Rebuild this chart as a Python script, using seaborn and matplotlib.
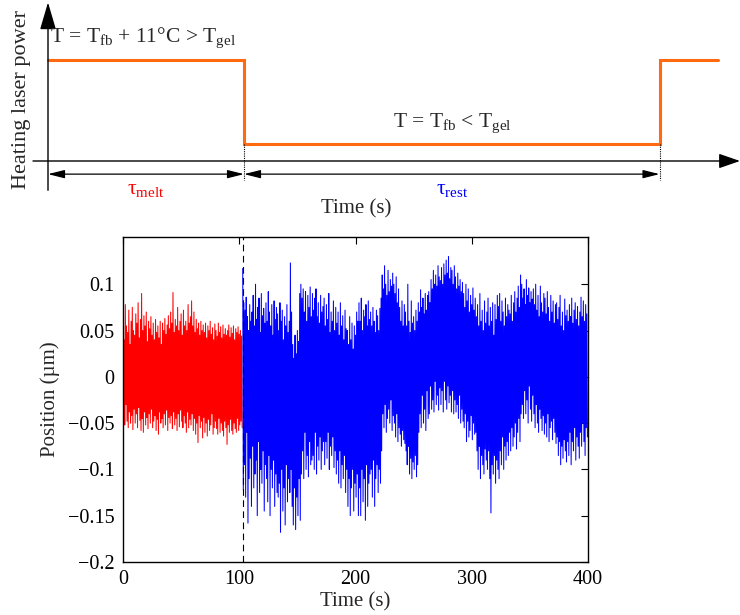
import numpy as np
import pandas as pd
import matplotlib
matplotlib.use("Agg")
import matplotlib.pyplot as plt
import seaborn as sns

# Schematic (top panel): heating laser power vs time, arbitrary units
phase_edges = [0, 100, 312, 342]      # melt, rest, melt again
phase_power = [1.0, 0.17, 1.0]

# Position trace (bottom panel), values in nm, 0.5 s apart
melt_nm = [
    65, -45, 40, -52, 78, -30, 55, -48, 48, -55, 72, -38, 35, -50, 60, -42, 75, -57, 50, -35,
    45, -50, 68, -40, 58, -55, 80, -33, 42, -47, 62, -58, 90, -45, 50, -60, 66, -38, 55, -52,
    70, -44, 38, -56, 60, -40, 52, -50, 65, -35, 45, -55, 58, -48, 40, -42, 62, -58, 48, -46,
    55, -62, 42, -38, 60, -50, 35, -45, 58, -55, 50, -40, 63, -52, 46, -36, 56, -58, 66, -44,
    52, -50, 70, -42, 58, -56, 91, -38, 48, -52, 62, -45, 55, -58, 75, -40, 50, -54, 60, -36,
    68, -48, 45, -55, 72, -42, 55, -50, 60, -60, 50, -38, 78, -55, 58, -46, 65, -52, 82, -40,
    55, -58, 70, -45, 48, -62, 62, -50, 52, -71, 58, -42, 45, -55, 60, -48, 50, -66, 56, -44,
    48, -60, 58, -50, 42, -64, 55, -46, 50, -58, 60, -52, 46, -40, 53, -62, 40, -55, 57, -48,
    50, -56, 44, -62, 58, -45, 48, -60, 54, -50, 42, -58, 56, -64, 46, -48, 52, -55, 45, -73,
    50, -52, 56, -60, 43, -46, 53, -58, 47, -62, 55, -50, 40, -56, 52, -60, 48, -45, 54, -58,
    46, -52, 50, -48, 44, -55,
]
rest_nm = [
    117, -122, 80, -95, 72, -130, 86, -60, 65, -158, 50, -110, 78, -88, 60, -140, 70, -75, 88, -120,
    55, -105, 100, -90, 62, -150, 75, -70, 85, -125, 48, -100, 90, -115, 66, -80, 74, -145, 58, -95,
    80, -110, 60, -135, 92, -85, 70, -150, 55, -100, 78, -120, 45, -90, 82, -140, 62, -105, 75, -125,
    68, -130, 50, -115, 80, -168, 60, -100, 72, -145, 40, -120, 65, -160, 55, -95, 78, -135, 48, -110,
    60, -125, 123, -100, 70, -140, 35, -160, 20, -120, 45, -165, 25, -130, 50, -150, 38, -110, 90, -155,
    100, -105, 85, -80, 95, -110, 70, -60, 92, -100, 60, -85, 88, -108, 75, -70, 97, -95, 65, -90,
    90, -85, 72, -100, 85, -60, 95, -105, 65, -75, 80, -90, 58, -65, 88, -100, 70, -80, 76, -70,
    85, -95, 55, -70, 78, -88, 62, -60, 90, -100, 48, -75, 70, -85, 60, -65, 82, -98, 50, -80,
    75, -105, 58, -90, 70, -115, 45, -80, 80, -120, 55, -95, 66, -110, 40, -85, 72, -125, 52, -100,
    50, -140, 35, -110, 65, -150, 40, -120, 58, -100, 30, -145, 55, -115, 45, -130, 70, -105, 60, -150,
    80, -120, 60, -150, 85, -100, 50, -135, 72, -110, 65, -155, 78, -95, 55, -140, 82, -115, 62, -105,
    70, -100, 55, -130, 75, -90, 60, -140, 48, -110, 72, -95, 66, -125, 50, -100, 74, -115, 85, -80,
    110, -40, 95, -55, 120, -30, 100, -60, 88, -45, 115, -35, 92, -50, 105, -25, 98, -58, 112, -42,
    100, -50, 90, -65, 108, -40, 80, -70, 95, -55, 75, -62, 60, -75, 82, -58, 55, -68, 78, -72,
    70, -80, 55, -95, 100, -75, 60, -105, 48, -88, 82, -110, 58, -92, 65, -100, 50, -85, 72, -108,
    60, -95, 80, -60, 70, -40, 94, -55, 75, -20, 85, -50, 68, -35, 90, -58, 72, -15, 88, -45,
    92, -40, 80, -10, 105, -35, 95, -25, 115, -38, 100, -5, 110, -30, 98, -20, 120, -36, 108, -12,
    104, -30, 118, -15, 100, -38, 122, -5, 110, -25, 126, -35, 112, -10, 130, -28, 106, -20, 118, -38,
    115, -15, 100, -40, 120, -25, 108, -38, 95, -30, 112, -45, 98, -20, 105, -50, 92, -35, 102, -48,
    90, -55, 75, -40, 100, -70, 82, -48, 95, -65, 70, -58, 88, -42, 78, -68, 96, -50, 72, -62,
    85, -60, 65, -80, 78, -100, 55, -75, 90, -110, 60, -85, 72, -95, 50, -105, 82, -78, 58, -90,
    70, -100, 85, -80, 55, -110, 75, -147, 60, -95, 80, -105, 45, -85, 78, -115, 62, -90, 88, -100,
    76, -110, 90, -80, 60, -95, 82, -65, 70, -100, 55, -75, 85, -90, 65, -70, 78, -85, 72, -60,
    68, -80, 88, -55, 60, -75, 80, -65, 92, -50, 70, -78, 85, -60, 98, -45, 75, -70, 110, -40,
    100, -30, 85, -45, 95, -15, 78, -40, 105, -25, 88, -50, 96, -10, 80, -35, 92, -48, 84, -20,
    95, -40, 78, -55, 100, -30, 72, -50, 88, -60, 65, -35, 98, -45, 80, -58, 70, -42, 90, -62,
    85, -50, 68, -65, 92, -40, 75, -70, 60, -55, 88, -48, 70, -68, 82, -45, 58, -60, 78, -72,
    80, -65, 62, -85, 75, -70, 88, -95, 55, -75, 70, -88, 50, -68, 84, -80, 66, -92, 72, -70,
    60, -85, 78, -60, 65, -95, 85, -70, 58, -80, 72, -55, 80, -90, 62, -65, 76, -75, 55, -88,
    70, -60, 86, -75, 65, -50, 82, -70, 60, -85, 78, -55, 68, -65,
]
t_switch = 103.0
dt = 0.5

yticks = [-0.2, -0.15, -0.1, -0.05, 0, 0.05, 0.1]
ytick_labels = ["\u22120.2", "\u22120.15", "\u22120.1", "\u22120.05", "0", "0.05", "0.1"]
xticks = [0, 100, 200, 300, 400]

sns.set_theme(style="white")
plt.rcParams["font.family"] = ["Liberation Serif", "DejaVu Serif"]
plt.rcParams["mathtext.fontset"] = "custom"
plt.rcParams["mathtext.rm"] = "Liberation Serif"
plt.rcParams["mathtext.it"] = "Liberation Serif:italic"

fig = plt.figure(figsize=(7.4, 6.15), dpi=100)

# ---------- top schematic ----------
px_t = 1.96      # pixels per schematic time unit
px_p = 101.0     # pixels per power unit
ax0 = fig.add_axes([0, 1 - 215 / 615, 1, 215 / 615])
ax0.set_xlim(-48 / px_t, (740 - 48) / px_t)
ax0.set_ylim(-(215 - 161) / px_p, 161 / px_p)
ax0.axis("off")

orange = "#ff6a10"
ax0.step(phase_edges, phase_power + [phase_power[-1]], where="post",
         color=orange, lw=2.2, solid_joinstyle="miter")

# axes arrows
ax0.annotate("", xy=(0, 1.57), xytext=(0, -0.29),
             arrowprops=dict(arrowstyle="-|>,head_length=1.7,head_width=0.5",
                             mutation_scale=10, color="black", lw=1, shrinkA=0, shrinkB=0))
ax0.annotate("", xy=(692 / px_t, 0), xytext=(-15 / px_t, 0),
             arrowprops=dict(arrowstyle="-|>,head_length=1.3,head_width=0.45",
                             mutation_scale=10, color="black", lw=1, shrinkA=0, shrinkB=0))

# duration arrows and dotted markers
y_arr = -0.13
for a, b in [(phase_edges[0], phase_edges[1]), (phase_edges[1], phase_edges[2])]:
    ax0.annotate("", xy=(b, y_arr), xytext=(a, y_arr),
                 arrowprops=dict(arrowstyle="<|-|>,head_length=1.0,head_width=0.25",
                                 mutation_scale=10, color="black", lw=0.9,
                                 shrinkA=0, shrinkB=0))
for e in phase_edges[1:3]:
    ax0.plot([e, e], [phase_power[1], -0.19], color="black", lw=0.8, ls=(0, (1, 1)))

ax0.text(1, 1.18, r"T = T$_\mathrm{fb}$ + 11°C > T$_\mathrm{gel}$",
         fontsize=15.5, ha="left", va="baseline")
ax0.text(176, 0.337, r"T = T$_\mathrm{fb}$ < T$_\mathrm{gel}$",
         fontsize=15.5, ha="left", va="baseline")
ax0.text(50, -0.28, r"τ$_\mathrm{melt}$", color="red", fontsize=15.5, ha="center", va="center")
ax0.text(206, -0.28, r"τ$_\mathrm{rest}$", color="blue", fontsize=15.5, ha="center", va="center")
ax0.text(157, -0.475, "Time (s)", fontsize=15, ha="center", va="center")
ax0.text(-13.5, 0.61, "Heating laser power", fontsize=16, rotation=90,
         ha="center", va="center")

# ---------- bottom position trace ----------
ax = fig.add_axes([123 / 740, 53 / 615, 465 / 740, 325 / 615])

melt = pd.DataFrame({"t": np.arange(len(melt_nm)) * dt,
                     "pos": np.array(melt_nm) / 1000.0})
rest = pd.DataFrame({"t": t_switch + np.arange(len(rest_nm)) * dt,
                     "pos": np.array(rest_nm) / 1000.0})

sns.lineplot(data=melt, x="t", y="pos", color="red", lw=0.75, estimator=None, ax=ax)
sns.lineplot(data=rest, x="t", y="pos", color="blue", lw=0.75, estimator=None, ax=ax)
ax.axvline(t_switch, color="black", lw=0.8, ls=(0, (6, 4)), zorder=5)

ax.set_xlim(0, 400)
ax.set_ylim(-0.2, 0.151)
ax.set_xticks(xticks)
ax.set_xticklabels([str(v) for v in xticks], fontsize=14.5)
ax.set_yticks(yticks)
ax.set_yticklabels(ytick_labels, fontsize=14.5)
ax.set_xlabel("Time (s)", fontsize=15, labelpad=2)
ax.set_ylabel("Position (µm)", fontsize=15, labelpad=6)
ax.tick_params(direction="in", top=True, right=True, length=5, width=0.8,
               colors="black")
ax.tick_params(axis="x", pad=6)
ax.tick_params(axis="y", pad=6)
for s in ax.spines.values():
    s.set_color("black")
    s.set_linewidth(1.0)

fig.savefig("out.png", dpi=100)
